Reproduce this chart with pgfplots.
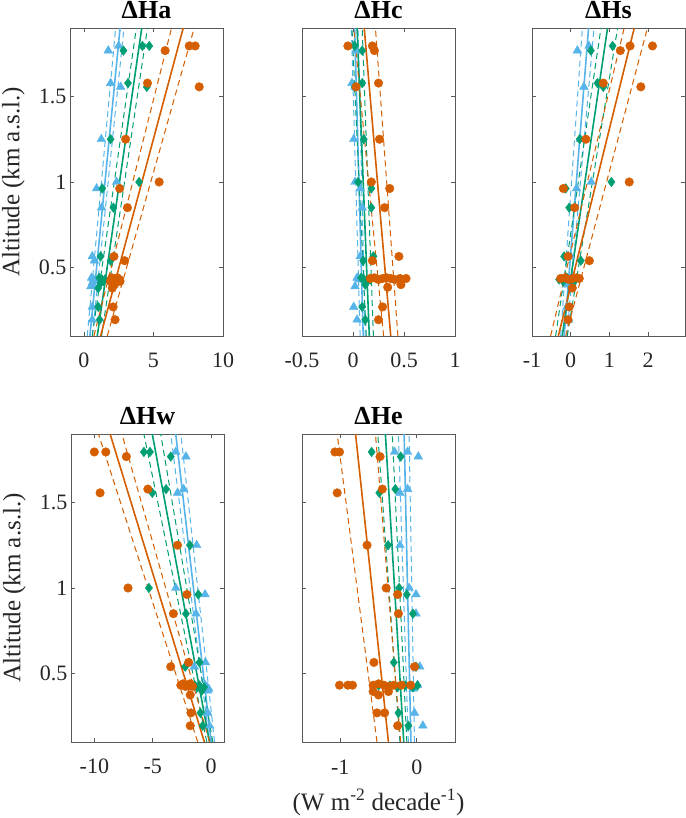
\documentclass[border=0pt]{standalone}
\usepackage{fontspec}
\setmainfont{Liberation Serif}
\usepackage{pgfplots}
\pgfplotsset{compat=1.18}
\definecolor{cO}{RGB}{213,94,0}
\definecolor{cG}{RGB}{0,158,115}
\definecolor{cB}{RGB}{86,180,233}
\definecolor{axc}{RGB}{38,38,38}
\pgfplotsset{
  panel/.style={
    scale only axis, width=153pt, height=308pt,
    ymin=0.1, ymax=1.9, ytick={0.5,1,1.5},
    axis line style={draw=black!65, line width=0.6pt},
    tick style={draw=black!65, line width=0.6pt},
    tick align=inside, tick pos=both, major tick length=4pt,
    ticklabel style={font=\fontsize{22}{24}\selectfont, text=axc},
    xticklabel style={anchor=base, yshift=-32pt},
    every axis title shift=0pt,
    title style={font=\fontsize{26}{28}\selectfont\bfseries, anchor=base, yshift=9pt},
    ylabel style={font=\fontsize{25}{27}\selectfont, text=axc, at={(axis description cs:-0.37,0.5)}, anchor=center},
    clip=true,
  },
  pB/.style={only marks, mark=triangle*, mark size=5pt, color=cB, mark options={draw=cB, fill=cB}},
  pG/.style={only marks, mark=diamond*, mark size=4.8pt, color=cG, mark options={draw=cG, fill=cG}},
  pO/.style={only marks, mark=*, mark size=4.3pt, color=cO, mark options={draw=cO, fill=cO}},
  lB/.style={no marks, draw=cB, line width=1.6pt},
  lG/.style={no marks, draw=cG, line width=1.6pt},
  lO/.style={no marks, draw=cO, line width=1.6pt},
  dB/.style={no marks, draw=cB, line width=1pt, dash pattern=on 6pt off 4pt},
  dG/.style={no marks, draw=cG, line width=1pt, dash pattern=on 6pt off 4pt},
  dO/.style={no marks, draw=cO, line width=1pt, dash pattern=on 6pt off 4pt},
}
\begin{document}
\begin{tikzpicture}
\useasboundingbox (0,0) rectangle (685pt,818pt);

% ---------------- Delta Ha
\begin{axis}[panel, at={(70pt,482pt)}, anchor=south west,
  xmin=-1, xmax=10, xtick={0,5,10}, xticklabels={0,5,10},
  yticklabels={0.5,1,1.5}, title={ΔHa},
  ylabel={Altitude (km a.s.l.)}]
\addplot[pB] coordinates {(1.75,1.768)(2.5,1.795)(1.92,1.578)(2.64,1.556)(1.25,1.25)(2.35,1.0)(0.91,0.962)(1.27,0.85)(0.6,0.565)(0.75,0.54)(0.55,0.44)(0.7,0.43)(0.6,0.41)(0.8,0.42)(0.5,0.39)(0.6,0.27)(0.6,0.195)};
\addplot[pG] coordinates {(2.84,1.768)(4.2,1.795)(4.7,1.795)(3.17,1.578)(4.52,1.556)(1.92,1.25)(3.97,1.0)(1.32,0.962)(2.12,0.85)(1.2,0.565)(1.92,0.54)(1.1,0.44)(1.3,0.43)(1.5,0.43)(1.4,0.42)(1.2,0.41)(1.03,0.38)(1.03,0.27)(1.13,0.195)};
\addplot[pO] coordinates {(5.84,1.768)(7.57,1.795)(8.0,1.795)(4.57,1.578)(8.29,1.556)(3.0,1.25)(5.41,1.0)(2.57,0.962)(3.13,0.85)(2.16,0.565)(2.93,0.54)(2.0,0.44)(2.3,0.43)(2.55,0.43)(2.6,0.42)(2.4,0.44)(1.9,0.42)(2.2,0.40)(2.04,0.38)(2.1,0.27)(2.24,0.195)};
\addplot[dB] coordinates {(0.24,0.1)(2.28,1.9)};
\addplot[dB] coordinates {(0.60,0.1)(2.88,1.9)};
\addplot[lB] coordinates {(0.43,0.1)(2.60,1.9)};
\addplot[dG] coordinates {(0.60,0.1)(3.77,1.9)};
\addplot[dG] coordinates {(1.27,0.1)(4.57,1.9)};
\addplot[lG] coordinates {(0.96,0.1)(4.16,1.9)};
\addplot[dO] coordinates {(0.72,0.1)(6.30,1.9)};
\addplot[dO] coordinates {(1.68,0.1)(7.93,1.9)};
\addplot[lO] coordinates {(1.20,0.1)(7.14,1.9)};
\end{axis}

% ---------------- Delta Hc
\begin{axis}[panel, at={(302pt,482pt)}, anchor=south west,
  xmin=-0.5, xmax=1, xtick={-0.5,0,0.5,1}, xticklabels={-0.5,0,0.5,1},
  yticklabels={}, title={ΔHc}]
\addplot[pB] coordinates {(0.007,1.795)(0.03,1.768)(-0.01,1.578)(0.02,1.556)(0.007,1.25)(0.02,1.0)(0.07,0.962)(0.09,0.85)(0.07,0.565)(0.04,0.44)(0.06,0.43)(0.02,0.39)(0.007,0.27)(0.04,0.195)};
\addplot[pG] coordinates {(0.016,1.795)(0.09,1.768)(0.016,1.556)(0.09,1.578)(0.105,1.25)(0.05,1.0)(0.18,0.962)(0.18,0.85)(0.2,0.565)(0.1,0.54)(0.08,0.44)(0.11,0.43)(0.14,0.42)(0.17,0.43)(0.12,0.40)(0.09,0.27)(0.12,0.195)};
\addplot[pO] coordinates {(-0.05,1.795)(0.19,1.795)(0.21,1.768)(0.03,1.556)(0.25,1.578)(0.26,1.25)(0.18,1.0)(0.36,0.962)(0.31,0.85)(0.45,0.565)(0.19,0.54)(0.17,0.436)(0.21,0.44)(0.25,0.43)(0.29,0.436)(0.33,0.44)(0.37,0.436)(0.41,0.43)(0.46,0.436)(0.52,0.436)(0.47,0.40)(0.34,0.385)(0.29,0.27)(0.25,0.195)};
\addplot[dB] coordinates {(0.07,0.1)(-0.016,1.9)};
\addplot[dB] coordinates {(0.12,0.1)(0.05,1.9)};
\addplot[lB] coordinates {(0.10,0.1)(0.016,1.9)};
\addplot[dG] coordinates {(0.13,0.1)(-0.01,1.9)};
\addplot[dG] coordinates {(0.20,0.1)(0.09,1.9)};
\addplot[lG] coordinates {(0.16,0.1)(0.04,1.9)};
\addplot[dO] coordinates {(0.30,0.1)(0.007,1.9)};
\addplot[dO] coordinates {(0.44,0.1)(0.22,1.9)};
\addplot[lO] coordinates {(0.37,0.1)(0.11,1.9)};
\end{axis}

% ---------------- Delta Hs
\begin{axis}[panel, at={(532pt,482pt)}, anchor=south west,
  xmin=-1, xmax=2.95, xtick={-1,0,1,2}, xticklabels={-1,0,1,2},
  yticklabels={}, title={ΔHs}]
\addplot[pB] coordinates {(0.17,1.768)(0.47,1.795)(0.34,1.556)(0.25,1.25)(0.53,1.0)(0.15,0.962)(0.09,0.85)(0.0,0.565)(-0.15,0.44)(-0.05,0.43)(-0.1,0.40)(-0.1,0.27)(-0.05,0.195)};
\addplot[pG] coordinates {(0.52,1.768)(1.08,1.795)(0.69,1.578)(0.84,1.556)(0.23,1.25)(1.05,1.0)(-0.13,0.962)(-0.04,0.85)(-0.17,0.565)(0.26,0.54)(-0.3,0.43)(-0.2,0.42)(-0.1,0.44)(0.0,0.43)(0.09,0.42)};
\addplot[pO] coordinates {(1.28,1.768)(1.53,1.795)(2.11,1.795)(0.84,1.578)(1.81,1.556)(0.39,1.25)(1.51,1.0)(-0.19,0.962)(0.10,0.85)(-0.07,0.565)(0.48,0.54)(-0.26,0.436)(-0.15,0.44)(-0.05,0.43)(0.05,0.436)(0.15,0.44)(0.22,0.436)(0.04,0.38)(-0.04,0.27)(-0.07,0.195)};
\addplot[dB] coordinates {(-0.26,0.1)(0.30,1.9)};
\addplot[dB] coordinates {(-0.10,0.1)(0.60,1.9)};
\addplot[lB] coordinates {(-0.17,0.1)(0.46,1.9)};
\addplot[dG] coordinates {(-0.39,0.1)(0.78,1.9)};
\addplot[dG] coordinates {(-0.09,0.1)(1.21,1.9)};
\addplot[lG] coordinates {(-0.22,0.1)(0.95,1.9)};
\addplot[dO] coordinates {(-0.52,0.1)(1.38,1.9)};
\addplot[dO] coordinates {(-0.13,0.1)(1.98,1.9)};
\addplot[lO] coordinates {(-0.32,0.1)(1.64,1.9)};
\end{axis}

% ---------------- Delta Hw
\begin{axis}[panel, at={(71pt,76pt)}, anchor=south west,
  xmin=-12, xmax=1.1, xtick={-10,-5,0}, xticklabels={-10,-5,0},
  yticklabels={0.5,1,1.5}, title={ΔHw},
  ylabel={Altitude (km a.s.l.)}]
\addplot[pB] coordinates {(-3.03,1.795)(-2.16,1.768)(-2.88,1.556)(-2.36,1.578)(-1.24,1.25)(-3.03,1.0)(-0.52,0.962)(-1.3,0.85)(-0.49,0.565)(-1.44,0.54)(-0.5,0.43)(-0.35,0.42)(-0.2,0.41)(-0.3,0.40)(-0.29,0.27)(-0.14,0.195)};
\addplot[pG] coordinates {(-5.76,1.795)(-5.24,1.795)(-3.46,1.768)(-5.04,1.556)(-3.86,1.578)(-1.82,1.25)(-5.33,1.0)(-1.1,0.962)(-2.16,0.85)(-1.0,0.565)(-2.22,0.54)(-1.4,0.43)(-1.2,0.42)(-1.0,0.43)(-0.8,0.40)(-0.6,0.42)(-0.92,0.27)(-0.72,0.195)};
\addplot[pO] coordinates {(-10.0,1.795)(-9.02,1.795)(-7.26,1.768)(-9.51,1.556)(-5.42,1.578)(-2.88,1.25)(-7.12,1.0)(-2.07,0.962)(-3.23,0.85)(-1.93,0.565)(-3.46,0.54)(-2.6,0.432)(-2.4,0.44)(-2.2,0.425)(-2.0,0.432)(-1.8,0.44)(-1.6,0.425)(-1.79,0.375)(-1.73,0.27)(-1.79,0.195)};
\addplot[dB] coordinates {(-0.14,0.1)(-3.46,1.9)};
\addplot[dB] coordinates {(0.29,0.1)(-2.59,1.9)};
\addplot[lB] coordinates {(0.0,0.1)(-3.03,1.9)};
\addplot[dG] coordinates {(-0.37,0.1)(-5.76,1.9)};
\addplot[dG] coordinates {(0.14,0.1)(-4.32,1.9)};
\addplot[lG] coordinates {(-0.14,0.1)(-5.04,1.9)};
\addplot[dO] coordinates {(-1.15,0.1)(-9.65,1.9)};
\addplot[dO] coordinates {(-0.14,0.1)(-7.64,1.9)};
\addplot[lO] coordinates {(-0.58,0.1)(-8.65,1.9)};
\end{axis}

% ---------------- Delta He
\begin{axis}[panel, at={(302pt,76pt)}, anchor=south west,
  xmin=-1.5, xmax=0.5, xtick={-1,0}, xticklabels={-1,0},
  yticklabels={}, title={ΔHe},
  xlabel={(W m\textsuperscript{-2} decade\textsuperscript{-1})},
  xlabel style={font=\fontsize{25}{27}\selectfont, text=axc, at={(axis description cs:0.5,0)}, anchor=base, yshift=-68pt}]
\addplot[pB] coordinates {(-0.29,1.795)(-0.12,1.795)(0.02,1.768)(-0.22,1.556)(-0.12,1.578)(-0.22,1.25)(-0.1,1.0)(-0.01,0.962)(-0.01,0.85)(0.04,0.54)(0.01,0.433)(-0.05,0.41)(-0.03,0.27)(0.08,0.195)};
\addplot[pG] coordinates {(-0.59,1.795)(-0.21,1.768)(-0.49,1.556)(-0.28,1.578)(-0.375,1.25)(-0.23,1.0)(-0.13,0.962)(-0.05,0.85)(-0.3,0.565)(-0.01,0.54)(-0.5,0.43)(-0.35,0.43)(-0.25,0.42)(-0.15,0.43)(-0.05,0.42)(0.01,0.43)(-0.24,0.27)(-0.11,0.195)};
\addplot[pO] coordinates {(-1.07,1.795)(-1.01,1.795)(-0.48,1.768)(-1.04,1.556)(-0.45,1.578)(-0.65,1.25)(-0.40,1.0)(-0.25,0.962)(-0.24,0.85)(-0.56,0.565)(-0.03,0.54)(-1.01,0.432)(-0.9,0.432)(-0.84,0.432)(-0.57,0.432)(-0.5,0.44)(-0.43,0.432)(-0.36,0.425)(-0.3,0.432)(-0.2,0.432)(-0.08,0.432)(-0.57,0.395)(-0.5,0.375)(-0.37,0.395)(-0.52,0.27)(-0.42,0.27)(-0.25,0.195)};
\addplot[dB] coordinates {(-0.11,0.1)(-0.24,1.9)};
\addplot[dB] coordinates {(-0.03,0.1)(-0.10,1.9)};
\addplot[lB] coordinates {(-0.076,0.1)(-0.165,1.9)};
\addplot[dG] coordinates {(-0.22,0.1)(-0.51,1.9)};
\addplot[dG] coordinates {(-0.13,0.1)(-0.32,1.9)};
\addplot[lG] coordinates {(-0.17,0.1)(-0.41,1.9)};
\addplot[dO] coordinates {(-0.52,0.1)(-1.04,1.9)};
\addplot[dO] coordinates {(-0.21,0.1)(-0.54,1.9)};
\addplot[lO] coordinates {(-0.37,0.1)(-0.80,1.9)};
\end{axis}
\end{tikzpicture}
\end{document}
